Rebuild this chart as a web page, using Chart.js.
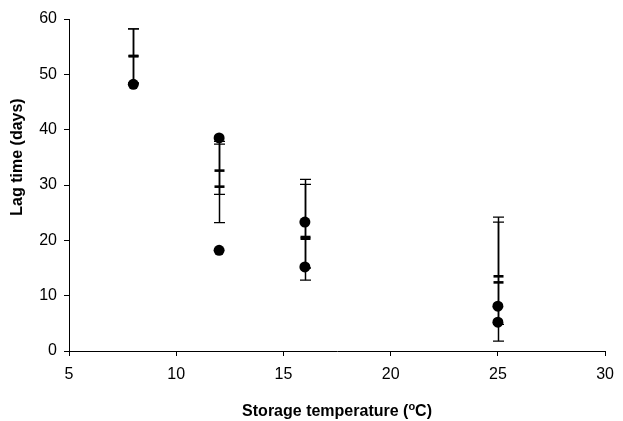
<!DOCTYPE html>
<html>
<head>
<meta charset="utf-8">
<script src="https://cdn.jsdelivr.net/npm/chart.js@4.4.1/dist/chart.umd.min.js"></script>
<style>
  html, body { margin: 0; padding: 0; background: #ffffff; }
  #wrap { width: 623px; height: 421px; position: relative; }
</style>
</head>
<body>
<div id="wrap"><canvas id="c" width="623" height="421"></canvas></div>
<script>
// Observed lag times (individual points)
const obsTemp = [8, 12, 12, 16, 16, 25, 25];
const obsLag  = [48.2, 38.5, 18.2, 23.3, 15.2, 8.1, 5.2];

// Mean lag times with error limits, two sets
const barTemp = [8, 12, 16, 25];
const meanA = [53.3, 32.6, 20.6, 13.5];
const lowA  = [48.4, 28.3, 12.8, 1.8];
const highA = [58.2, 37.4, 31.0, 24.2];
const meanB = [53.3, 29.7, 20.3, 12.4];
const lowB  = [48.4, 23.2, 15.0, 4.8];
const highB = [58.2, 37.9, 30.1, 23.3];

const xTicks = [5, 10, 15, 20, 25, 30];
const yTicks = [0, 10, 20, 30, 40, 50, 60];

const xTitleParts = ['Storage temperature (', 'o', 'C)'];
const yTitleText = 'Lag time (days)';

const FONT = "'Liberation Sans', Arial, sans-serif";

const errorBars = {
  id: 'errorBars',
  beforeDatasetsDraw(chart) {
    const {ctx, scales: {x, y}} = chart;
    ctx.save();
    ctx.strokeStyle = '#000';
    const sets = [[meanA, lowA, highA], [meanB, lowB, highB]];
    sets.forEach(([m, lo, hi]) => {
      barTemp.forEach((t, i) => {
        const px = Math.round(x.getPixelForValue(t)) + 0.5;
        const pl = y.getPixelForValue(lo[i]);
        const ph = y.getPixelForValue(hi[i]);
        const pm = y.getPixelForValue(m[i]);
        ctx.lineWidth = 1.5;
        ctx.beginPath(); ctx.moveTo(px, pl); ctx.lineTo(px, ph); ctx.stroke();
        ctx.lineWidth = 1.3;
        ctx.beginPath();
        ctx.moveTo(px - 5.5, pl); ctx.lineTo(px + 5.5, pl);
        ctx.moveTo(px - 5.5, ph); ctx.lineTo(px + 5.5, ph);
        ctx.stroke();
        ctx.lineWidth = 2.6;
        ctx.beginPath(); ctx.moveTo(px - 5, pm); ctx.lineTo(px + 5, pm); ctx.stroke();
      });
    });
    ctx.restore();
  }
};

const axisTitles = {
  id: 'axisTitles',
  afterDraw(chart) {
    const {ctx, chartArea} = chart;
    ctx.save();
    ctx.fillStyle = '#000';
    // x title with superscript
    const cx = (chartArea.left + chartArea.right) / 2;
    const base = 416;
    ctx.textBaseline = 'alphabetic';
    const big = "bold 16px " + FONT;
    const small = "bold 11px " + FONT;
    const [p1, p2, p3] = xTitleParts;
    ctx.font = big; const w1 = ctx.measureText(p1).width; const w3 = ctx.measureText(p3).width;
    ctx.font = small; const w2 = ctx.measureText(p2).width;
    let sx = cx - (w1 + w2 + w3) / 2;
    ctx.font = big; ctx.fillText(p1, sx, base); sx += w1;
    ctx.font = small; ctx.fillText(p2, sx, base - 6); sx += w2;
    ctx.font = big; ctx.fillText(p3, sx, base);
    // y title
    ctx.translate(18, 157);
    ctx.rotate(-Math.PI / 2);
    ctx.font = big;
    ctx.textAlign = 'center';
    ctx.textBaseline = 'middle';
    ctx.fillText(yTitleText, 0, 0);
    ctx.restore();
  }
};

new Chart(document.getElementById('c'), {
  type: 'scatter',
  data: {
    datasets: [{
      label: 'Lag time',
      data: obsTemp.map((t, i) => ({x: t, y: obsLag[i]})),
      backgroundColor: '#000',
      borderColor: '#000',
      borderWidth: 0,
      pointRadius: 5.5,
      pointHoverRadius: 5.5
    }]
  },
  options: {
    responsive: false,
    animation: false,
    devicePixelRatio: 1,
    layout: { padding: { top: 19, right: 12, left: 0, bottom: 0 } },
    plugins: { legend: { display: false }, tooltip: { enabled: false } },
    scales: {
      x: {
        type: 'linear', min: 5, max: 30,
        afterFit(s) { s.height = 70; },
        afterBuildTicks(s) { s.ticks = xTicks.map(v => ({value: v})); },
        grid: { display: true, drawOnChartArea: false, drawTicks: true, tickLength: 5, color: '#000', lineWidth: 1 },
        border: { display: true, color: '#000', width: 1 },
        ticks: { color: '#000', font: { family: FONT, size: 16 }, padding: 9, maxRotation: 0 },
        title: { display: false }
      },
      y: {
        type: 'linear', min: 0, max: 60,
        afterFit(s) { s.width = 69; },
        afterBuildTicks(s) { s.ticks = yTicks.map(v => ({value: v})); },
        grid: { display: true, drawOnChartArea: false, drawTicks: true, tickLength: 5, color: '#000', lineWidth: 1 },
        border: { display: true, color: '#000', width: 1 },
        ticks: { color: '#000', font: { family: FONT, size: 16 }, padding: 7 },
        title: { display: false }
      }
    }
  },
  plugins: [errorBars, axisTitles]
});
</script>
</body>
</html>
